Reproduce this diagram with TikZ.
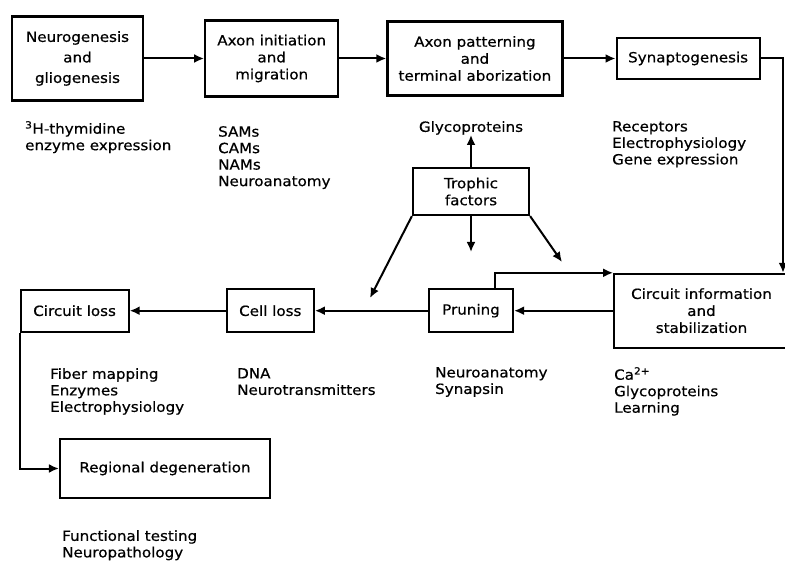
\documentclass[tikz,border=0pt]{standalone}
\usepackage{fontspec}
\setmainfont{DejaVu Sans}[FakeStretch=1.08, FakeBold=0.6]
\usetikzlibrary{arrows.meta, positioning}
\tikzset{
  box/.style={
    rectangle, draw=black, line width=2.2pt,
    align=center, inner sep=2pt,
    font=\fontsize{14}{17}\selectfont
  },
  note/.style={
    anchor=north west, inner sep=0pt, align=left,
    font=\fontsize{14}{16.5}\selectfont
  },
  arrow/.style={-{Latex[length=10pt, width=9pt]}, line width=2pt}
}

\begin{document}
\begin{tikzpicture}[x=1pt, y=-1pt]
  \useasboundingbox (0,0) rectangle (785,561);

  % top row
  \node[box, minimum width=131pt, minimum height=84pt,
        font=\fontsize{14}{20.5}\selectfont] (neuro) at (77.5,58.5)
        {Neurogenesis\\and\\gliogenesis};
  \node[box, minimum width=133pt, minimum height=76pt, right=60pt of neuro] (axon)
        {Axon initiation\\and\\migration};
  \node[box, minimum width=175pt, minimum height=74pt, right=47pt of axon] (pattern)
        {Axon patterning\\and\\terminal aborization};
  \node[box, minimum width=143pt, minimum height=41pt, right=52pt of pattern] (synapto)
        {Synaptogenesis};

  % middle
  \node[box, minimum width=116pt, minimum height=47pt] (trophic) at (471,191.5)
        {Trophic\\factors};
  \node[box, minimum width=84pt, minimum height=43pt, below=72pt of trophic] (pruning)
        {Pruning};
  \node[box, minimum width=175pt, minimum height=74pt, line width=1.8pt,
        right=99pt of pruning] (circuit)
        {Circuit information\\and\\stabilization};
  \node[box, minimum width=87pt, minimum height=43pt, left=113pt of pruning] (cell)
        {Cell loss};
  \node[box, minimum width=108pt, minimum height=42pt, left=96pt of cell] (circloss)
        {Circuit loss};
  \node[box, minimum width=210pt, minimum height=59pt] (regional) at (165,468.5)
        {Regional degeneration};

  % methods under each stage
  \node[note] (thymidine) at (25,121) {\textsuperscript{3}H-thymidine\\enzyme expression};
  \node[note] (sams) at (218,126) {SAMs\\CAMs\\NAMs\\Neuroanatomy};
  \node[note, anchor=north] (glyco) at (471,121) {Glycoproteins};
  \node[note] (receptors) at (612,121) {Receptors\\Electrophysiology\\Gene expression};
  \node[note] (fiber) at (50,368) {Fiber mapping\\Enzymes\\Electrophysiology};
  \node[note] (dna) at (237,368) {DNA\\Neurotransmitters};
  \node[note] (synapsin) at (435,367) {Neuroanatomy\\Synapsin};
  \node[note] (calcium) at (614,367) {Ca\textsuperscript{2+}\\Glycoproteins\\Learning};
  \node[note] (testing) at (62,530) {Functional testing\\Neuropathology};

  \coordinate (drop) at (783,56.5);
  \coordinate (tl) at (370,298);
  \coordinate (td) at (471,252);
  \coordinate (tr) at (562,262);

  \draw[arrow] (neuro) -- (axon);
  \draw[arrow] (axon) -- (pattern);
  \draw[arrow] (pattern) -- (synapto);
  \draw[arrow] (synapto.east) -- (synapto.east -| drop) -- (drop |- circuit.north);
  \draw[arrow] (circuit.west |- pruning) -- (pruning.east);
  \draw[arrow] ([xshift=24pt]pruning.north) |- (circuit.north west);
  \draw[arrow] (pruning) -- (cell);
  \draw[arrow] (cell) -- (circloss);
  \draw[arrow] (circloss.south west) |- (regional.west);
  \draw[arrow] (trophic) -- (glyco);
  \draw[arrow] (trophic) -- (td);
  \draw[arrow] (trophic.south west) -- (tl);
  \draw[arrow] (trophic.south east) -- (tr);

\end{tikzpicture}
\end{document}
